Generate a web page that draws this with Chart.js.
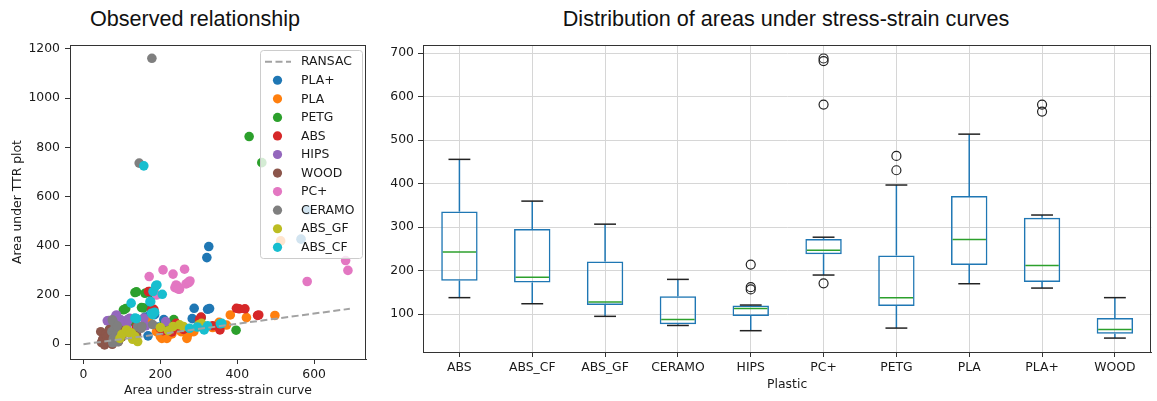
<!DOCTYPE html>
<html>
<head>
<meta charset="utf-8">
<script src="https://cdn.jsdelivr.net/npm/chart.js@4"></script>
<style>
body { margin:0; background:#fff; width:1157px; height:401px; position:relative; overflow:hidden; }
canvas { position:absolute; top:0; }
.title { position:absolute; top:8px; font-family:"Liberation Sans", Arial, sans-serif; font-size:21.6px; line-height:21.6px; color:#111; white-space:nowrap; transform:translateX(-50%); }
</style>
</head>
<body>
<div class="title" style="left:195px">Observed relationship</div>
<div class="title" style="left:786px">Distribution of areas under stress-strain curves</div>
<canvas id="scatterChart" width="372" height="401" style="left:0"></canvas>
<canvas id="boxChart" width="785" height="401" style="left:372px"></canvas>
<script>
// scatter: [area under stress-strain, area under TTR]
const plastics = ['PLA+','PLA','PETG','ABS','HIPS','WOOD','PC+','CERAMO','ABS_GF','ABS_CF'];
const colors = ['#1f77b4','#ff7f0e','#2ca02c','#d62728','#9467bd','#8c564b','#e377c2','#7f7f7f','#bcbd22','#17becf'];

const ptsPLAplus = [[160,110],[165,90],[168,34],[171,153],[174,120],[178,205],[185,120],[195,70],[200,60],[209,100],[212,55],[283,104],[288,146],[300,95],[321,352],[323,142],[326,397],[328,145],[566,427],[582,546]];
const ptsPLA = [[170,95],[190,51],[200,31],[204,24],[213,60],[217,24],[224,58],[228,85],[230,42],[254,51],[269,24],[272,40],[287,51],[336,68],[353,89],[372,78],[382,119],[424,108],[498,117],[513,420]];
const ptsPETG = [[68,60],[79,79],[95,99],[104,140],[110,145],[119,92],[129,92],[134,210],[138,213],[151,149],[155,148],[160,207],[185,207],[210,80],[235,100],[306,108],[397,57],[431,844],[464,738]];
const ptsABS = [[138,70],[169,214],[173,214],[177,140],[178,133],[183,142],[199,66],[207,55],[230,50],[241,85],[243,70],[260,60],[302,100],[306,110],[336,75],[355,58],[398,146],[405,144],[420,144],[453,117],[456,119]];
const ptsHIPS = [[62,95],[66,96],[84,115],[86,119],[96,100],[100,80],[105,90],[113,70],[115,100],[117,99],[120,105],[157,106],[162,75],[214,92]];
const ptsWOOD = [[45,51],[47,7],[50,20],[55,-3],[58,40],[62,31],[65,10],[68,60],[75,0],[85,45],[91,11],[95,58],[100,30],[138,40]];
const ptsPCplus = [[171,275],[190,200],[207,302],[233,285],[238,230],[241,241],[245,235],[247,224],[250,224],[263,305],[267,245],[273,252],[274,250],[277,257],[582,255],[682,340],[688,300]];
const ptsCERAMO = [[74,51],[75,99],[76,6],[77,92],[78,24],[80,60],[85,40],[88,75],[90,10],[95,30],[141,72],[145,736],[150,65],[152,72],[178,1162],[180,80]];
const ptsABS_GF = [[95,24],[100,40],[112,58],[117,51],[121,45],[125,45],[128,20],[130,35],[134,31],[141,11],[200,68],[221,55],[233,72],[250,79],[260,72],[300,79],[307,85]];
const ptsABS_CF = [[124,167],[134,106],[138,104],[157,725],[173,173],[175,173],[177,126],[180,120],[181,214],[185,130],[188,237],[191,241],[205,203],[276,65],[296,70],[314,58],[323,75],[356,83],[360,85]];
const ransacLine = [[0,0],[693,144]];

const scatterXTicks = [0,200,400,600];
const scatterYTicks = [0,200,400,600,800,1000,1200];

// box plot stats per plastic
const boxCats = ['ABS','ABS_CF','ABS_GF','CERAMO','HIPS','PC+','PETG','PLA','PLA+','WOOD'];
const whiskLow  = [138,124, 95, 74, 62,190, 68,170,160, 45];
const boxQ1     = [177,173,121, 77, 96,238,119,213,174, 55];
const boxMedian = [243,185,128, 88,113,247,138,272,212, 65];
const boxQ3     = [336,296,221,141,120,273,235,372,322, 91];
const whiskHigh = [456,360,307,180,121,277,397,514,328,138];
const fliers = [['HIPS',214],['HIPS',162],['HIPS',157],['PC+',688],['PC+',682],['PC+',582],['PC+',171],['PETG',464],['PETG',431],['PLA+',582],['PLA+',566]];
const boxYTicks = [100,200,300,400,500,600,700];

const tickFont = { family: 'DejaVu Sans', size: 12.4 };
const textColor = '#1a1a1a';
const axisColor = '#333';

Chart.defaults.font.family = 'DejaVu Sans';
Chart.defaults.color = textColor;

const frame = {
  id: 'frame',
  afterDatasetsDraw(chart) {
    const a = chart.chartArea;
    const ctx = chart.ctx;
    ctx.save();
    ctx.strokeStyle = axisColor;
    ctx.lineWidth = 1;
    ctx.strokeRect(Math.round(a.left) + 0.5, Math.round(a.top) + 0.5, Math.round(a.right - a.left) - 1, Math.round(a.bottom - a.top));
    ctx.restore();
  }
};

// matplotlib-like legend inside the axes, upper right
const innerLegend = {
  id: 'innerLegend',
  afterDraw(chart) {
    const ctx = chart.ctx;
    const a = chart.chartArea;
    const w = 102, h = 208;
    const lx = a.right - 4 - w, ly = a.top + 5;
    ctx.save();
    ctx.beginPath();
    ctx.roundRect(lx + 0.5, ly + 0.5, w, h, 3);
    ctx.fillStyle = 'rgba(255,255,255,0.8)';
    ctx.fill();
    ctx.strokeStyle = '#cccccc';
    ctx.lineWidth = 1;
    ctx.stroke();
    ctx.font = '12.4px "DejaVu Sans"';
    ctx.textBaseline = 'middle';
    ctx.fillStyle = textColor;
    chart.data.datasets.forEach((ds, i) => {
      const cy = ly + 11.7 + i * 18.56;
      if (ds.showLine) {
        ctx.strokeStyle = ds.borderColor;
        ctx.lineWidth = 2;
        ctx.setLineDash([7, 3.5]);
        ctx.beginPath();
        ctx.moveTo(lx + 5, cy);
        ctx.lineTo(lx + 31, cy);
        ctx.stroke();
        ctx.setLineDash([]);
      } else {
        ctx.fillStyle = ds.backgroundColor;
        ctx.beginPath();
        ctx.arc(lx + 17.5, cy, 4.6, 0, Math.PI * 2);
        ctx.fill();
      }
      ctx.fillStyle = textColor;
      ctx.fillText(ds.label, lx + 41, cy + 0.5);
    });
    ctx.restore();
  }
};

const ptSets = [ptsPLAplus, ptsPLA, ptsPETG, ptsABS, ptsHIPS, ptsWOOD, ptsPCplus, ptsCERAMO, ptsABS_GF, ptsABS_CF];
const scatterSets = [{
  label: 'RANSAC',
  data: ransacLine.map(p => ({ x: p[0], y: p[1] })),
  showLine: true,
  borderColor: '#a2a2a2',
  borderWidth: 2,
  borderDash: [7, 3.5],
  pointRadius: 0,
  order: 0
}];
plastics.forEach((name, i) => {
  scatterSets.push({
    label: name,
    data: ptSets[i].map(p => ({ x: p[0], y: p[1] })),
    backgroundColor: colors[i],
    borderWidth: 0,
    pointRadius: 4.8,
    order: 20 - i
  });
});

const plain = v => String(v);

new Chart(document.getElementById('scatterChart'), {
  type: 'scatter',
  data: { datasets: scatterSets },
  options: {
    responsive: false,
    animation: false,
    layout: { padding: { left: 0, top: 45, right: 6, bottom: 0 } },
    plugins: { legend: { display: false }, tooltip: { enabled: false } },
    scales: {
      x: {
        type: 'linear', min: -35, max: 735,
        afterBuildTicks: s => { s.ticks = scatterXTicks.map(v => ({ value: v })); },
        afterFit: s => { s.height = 42; },
        grid: { drawOnChartArea: false, drawTicks: true, tickLength: 5, tickColor: axisColor },
        border: { display: true, color: axisColor, width: 1 },
        ticks: { font: tickFont, color: textColor, padding: 3, maxRotation: 0, callback: plain },
        title: { display: true, text: 'Area under stress-strain curve', font: tickFont, color: textColor, padding: { top: 0, bottom: 3 } }
      },
      y: {
        type: 'linear', min: -60, max: 1216,
        afterBuildTicks: s => { s.ticks = scatterYTicks.map(v => ({ value: v })); },
        afterFit: s => { s.width = 70; },
        grid: { drawOnChartArea: false, drawTicks: true, tickLength: 5, tickColor: axisColor },
        border: { display: true, color: axisColor, width: 1 },
        ticks: { font: tickFont, color: textColor, padding: 5, callback: plain },
        title: { display: true, text: 'Area under TTR plot', font: tickFont, color: textColor, padding: { top: 10.5, bottom: 0 } }
      }
    }
  },
  plugins: [frame, innerLegend]
});

// whiskers, caps and medians
const boxParts = {
  id: 'boxParts',
  afterDatasetsDraw(chart) {
    const ctx = chart.ctx;
    const xs = chart.scales.x, ys = chart.scales.y;
    const bars = chart.getDatasetMeta(0).data;
    const seg = (x1, y1, x2, y2) => { ctx.beginPath(); ctx.moveTo(x1, y1); ctx.lineTo(x2, y2); ctx.stroke(); };
    ctx.save();
    boxCats.forEach((c, i) => {
      const cx = xs.getPixelForValue(i);
      const half = bars[i].width / 2;
      const cap = half * 0.6;
      ctx.lineWidth = 1.5;
      ctx.strokeStyle = '#1f77b4';
      seg(cx, ys.getPixelForValue(whiskHigh[i]), cx, ys.getPixelForValue(boxQ3[i]));
      seg(cx, ys.getPixelForValue(boxQ1[i]), cx, ys.getPixelForValue(whiskLow[i]));
      ctx.strokeStyle = '#222';
      seg(cx - cap, ys.getPixelForValue(whiskHigh[i]), cx + cap, ys.getPixelForValue(whiskHigh[i]));
      seg(cx - cap, ys.getPixelForValue(whiskLow[i]), cx + cap, ys.getPixelForValue(whiskLow[i]));
      ctx.strokeStyle = '#2ca02c';
      seg(cx - half + 1.5, ys.getPixelForValue(boxMedian[i]), cx + half - 1.5, ys.getPixelForValue(boxMedian[i]));
    });
    ctx.restore();
  }
};

new Chart(document.getElementById('boxChart'), {
  type: 'bar',
  data: {
    labels: boxCats,
    datasets: [{
      label: 'box',
      data: boxQ1.map((v, i) => [v, boxQ3[i]]),
      backgroundColor: 'rgba(0,0,0,0)',
      borderColor: '#1f77b4',
      borderWidth: 1.5,
      borderSkipped: false,
      barPercentage: 0.5,
      categoryPercentage: 1,
      order: 2
    }, {
      type: 'line',
      label: 'fliers',
      data: fliers.map(f => ({ x: f[0], y: f[1] })),
      showLine: false,
      pointStyle: 'circle',
      pointRadius: 4.5,
      pointBackgroundColor: 'rgba(0,0,0,0)',
      pointBorderColor: '#222',
      pointBorderWidth: 1.2,
      order: 1
    }]
  },
  options: {
    responsive: false,
    animation: false,
    layout: { padding: { left: 0, top: 45, right: 5, bottom: 0 } },
    plugins: { legend: { display: false }, tooltip: { enabled: false } },
    scales: {
      x: {
        type: 'category', offset: true,
        afterFit: s => { s.height = 49; },
        grid: { offset: false, color: '#d6d6d6', lineWidth: 1, drawTicks: true, tickLength: 5, tickColor: axisColor },
        border: { display: true, color: axisColor, width: 1 },
        ticks: { font: tickFont, color: textColor, padding: 3, maxRotation: 0, autoSkip: false },
        title: { display: true, text: 'Plastic', font: tickFont, color: textColor, padding: { top: 0, bottom: 9 } }
      },
      y: {
        type: 'linear', min: 13, max: 719,
        afterBuildTicks: s => { s.ticks = boxYTicks.map(v => ({ value: v })); },
        afterFit: s => { s.width = 51; },
        grid: { color: '#d6d6d6', lineWidth: 1, drawTicks: true, tickLength: 5, tickColor: axisColor },
        border: { display: true, color: axisColor, width: 1 },
        ticks: { font: tickFont, color: textColor, padding: 4, callback: plain }
      }
    }
  },
  plugins: [frame, boxParts]
});
</script>
</body>
</html>
